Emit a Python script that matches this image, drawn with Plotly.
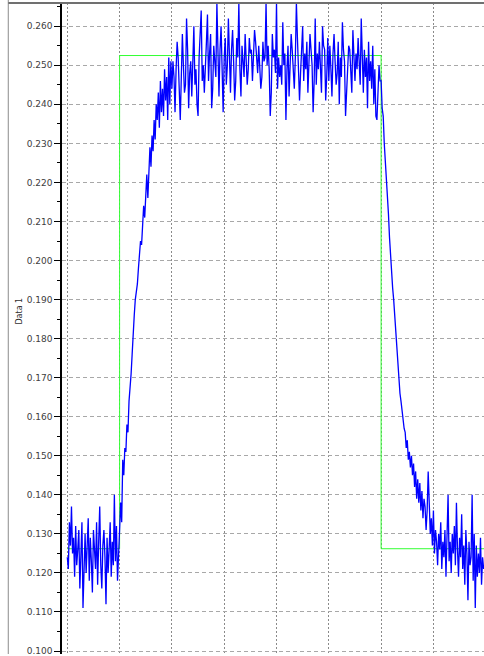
import plotly.graph_objects as go

# ---- data ----
sample_step = 2

baseline_vals = [
    0.124, 0.121, 0.133, 0.127, 0.137, 0.125, 0.129, 0.119, 0.132, 0.122,
    0.126, 0.131, 0.116, 0.128, 0.133, 0.111, 0.124, 0.130, 0.120, 0.127,
    0.134, 0.118, 0.129, 0.123, 0.115, 0.131, 0.126, 0.121, 0.133, 0.117,
    0.128, 0.137, 0.122, 0.116, 0.127, 0.131, 0.124, 0.112, 0.129, 0.120,
    0.126, 0.133, 0.119, 0.128, 0.122, 0.140, 0.123, 0.132, 0.118, 0.127,
]

rise_vals = [
    0.131, 0.138, 0.133, 0.149, 0.145, 0.152, 0.151, 0.158, 0.156, 0.164,
    0.167, 0.171, 0.176, 0.183, 0.186, 0.190, 0.192, 0.194, 0.198, 0.201,
    0.205, 0.204, 0.209, 0.214, 0.211, 0.219, 0.222, 0.216, 0.225, 0.229,
    0.224, 0.232, 0.228, 0.236, 0.231, 0.240, 0.236, 0.243, 0.234, 0.246,
    0.238, 0.244, 0.237, 0.249, 0.241, 0.247, 0.236, 0.252, 0.240, 0.251,
]

plateau_vals = [
    0.244, 0.251, 0.247, 0.238, 0.249, 0.256, 0.252, 0.241, 0.236, 0.247,
    0.258, 0.250, 0.243, 0.245, 0.262, 0.254, 0.239, 0.248, 0.251, 0.242,
    0.253, 0.260, 0.245, 0.249, 0.240, 0.237, 0.252, 0.257, 0.264, 0.246,
    0.250, 0.243, 0.248, 0.256, 0.263, 0.246, 0.253, 0.258, 0.239, 0.244,
    0.255, 0.251, 0.247, 0.266, 0.252, 0.242, 0.254, 0.260, 0.249, 0.238,
    0.252, 0.257, 0.245, 0.250, 0.262, 0.248, 0.243, 0.254, 0.259, 0.251,
    0.241, 0.246, 0.257, 0.252, 0.266, 0.249, 0.242, 0.255, 0.250, 0.247,
    0.258, 0.251, 0.245, 0.249, 0.257, 0.253, 0.254, 0.246, 0.252, 0.259,
    0.256, 0.253, 0.248, 0.255, 0.250, 0.244, 0.247, 0.256, 0.251, 0.252,
    0.266, 0.250, 0.255, 0.249, 0.237, 0.243, 0.258, 0.252, 0.254, 0.248,
    0.266, 0.244, 0.252, 0.247, 0.250, 0.245, 0.261, 0.250, 0.253, 0.236,
    0.249, 0.255, 0.242, 0.251, 0.258, 0.254, 0.249, 0.244, 0.252, 0.266,
    0.257, 0.250, 0.241, 0.248, 0.255, 0.260, 0.246, 0.253, 0.249, 0.256,
    0.243, 0.252, 0.258, 0.254, 0.250, 0.238, 0.246, 0.262, 0.245, 0.253,
    0.249, 0.256, 0.251, 0.243, 0.260, 0.255, 0.254, 0.241, 0.247, 0.257,
    0.246, 0.255, 0.249, 0.242, 0.253, 0.258, 0.251, 0.245, 0.248, 0.256,
    0.240, 0.252, 0.247, 0.261, 0.254, 0.251, 0.237, 0.243, 0.249, 0.255,
    0.254, 0.248, 0.243, 0.259, 0.250, 0.246, 0.253, 0.249, 0.257, 0.248,
    0.245, 0.262, 0.250, 0.243, 0.254, 0.247, 0.252, 0.239, 0.256, 0.246,
    0.251, 0.244, 0.255, 0.240, 0.249, 0.237, 0.236, 0.242, 0.250, 0.246,
]

fall_vals = [
    0.246, 0.239, 0.237, 0.230, 0.226, 0.221, 0.216, 0.212, 0.206, 0.201,
    0.198, 0.193, 0.190, 0.186, 0.181, 0.177, 0.172, 0.170, 0.166, 0.164,
    0.161, 0.159, 0.157, 0.156, 0.152, 0.154, 0.149, 0.151, 0.147, 0.150,
    0.145, 0.148, 0.142, 0.146, 0.139, 0.144, 0.138, 0.143, 0.136, 0.141,
    0.134, 0.139, 0.137, 0.131, 0.136, 0.146, 0.140, 0.130, 0.134, 0.127,
    0.136, 0.125, 0.131, 0.128, 0.122, 0.130, 0.126, 0.133, 0.121, 0.128,
    0.124, 0.131, 0.119, 0.127, 0.140, 0.123, 0.128, 0.120, 0.130, 0.125,
    0.132,
]

tail_vals = [
    0.122, 0.138, 0.126, 0.119, 0.129, 0.124, 0.135, 0.121, 0.127, 0.117,
    0.131, 0.125, 0.113, 0.128, 0.122, 0.124, 0.140, 0.118, 0.130, 0.111,
    0.127, 0.119, 0.125, 0.120, 0.129, 0.117, 0.124, 0.121,
]

ref_x = [0, 100, 100, 600, 600, 800]
ref_y = [0.1262, 0.1262, 0.2525, 0.2525, 0.1262, 0.1262]

y_ticks = [0.100, 0.110, 0.120, 0.130, 0.140, 0.150, 0.160, 0.170,
           0.180, 0.190, 0.200, 0.210, 0.220, 0.230, 0.240, 0.250, 0.260]
y_label = "Data 1"

data_y = baseline_vals + rise_vals + plateau_vals + fall_vals + tail_vals
data_x = [i * sample_step for i in range(len(data_y))]

fig = go.Figure()
fig.add_trace(go.Scatter(x=ref_x, y=ref_y, mode="lines",
                         line=dict(color="#33ff33", width=1),
                         hoverinfo="skip", showlegend=False))
fig.add_trace(go.Scatter(x=data_x, y=data_y, mode="lines",
                         line=dict(color="#0000ff", width=1.3),
                         showlegend=False))

fig.update_layout(
    width=484, height=656,
    margin=dict(l=62, r=0, t=3, b=0),
    paper_bgcolor="white", plot_bgcolor="white",
    font=dict(family="DejaVu Sans", size=9, color="#404040"),
    xaxis=dict(range=[-10.13, 796.7], tick0=0, dtick=100,
               showticklabels=False, ticks="", zeroline=False,
               showgrid=True, gridcolor="#8a8a8a", gridwidth=1,
               griddash="2px,2px", showline=False),
    yaxis=dict(range=[0.09924, 0.26595], tickvals=y_ticks,
               tickformat=".3f", ticks="outside", ticklen=6,
               tickcolor="black", tickwidth=1,
               showline=True, linecolor="black", linewidth=1.5,
               zeroline=False, showgrid=True, gridcolor="#a8a8a8",
               gridwidth=1, griddash="4px,3px",
               ticklabeloverflow="allow",
               minor=dict(dtick=0.005, tick0=0.1, ticks="outside",
                          ticklen=3, tickcolor="black", showgrid=False),
               tickfont=dict(family="DejaVu Sans", size=9, color="#404040")),
    shapes=[
        dict(type="line", xref="paper", yref="paper",
             x0=-0.1273, x1=-0.1273, y0=0, y1=1.01,
             line=dict(color="#8c8c8c", width=1)),
        dict(type="line", xref="paper", yref="paper",
             x0=-0.1273, x1=1.0, y0=1.0, y1=1.0,
             line=dict(color="#707070", width=2)),
    ],
    annotations=[
        dict(text=y_label, xref="paper", yref="paper",
             x=(13 - 62) / 422, y=(656 - 312) / 653,
             showarrow=False, textangle=-90,
             font=dict(family="DejaVu Sans", size=8, color="#303030")),
    ],
)

fig.write_html(
    "out.html",
    config={"displayModeBar": False},
    post_script="document.body.style.margin='0';document.body.style.overflow='hidden';",
)
